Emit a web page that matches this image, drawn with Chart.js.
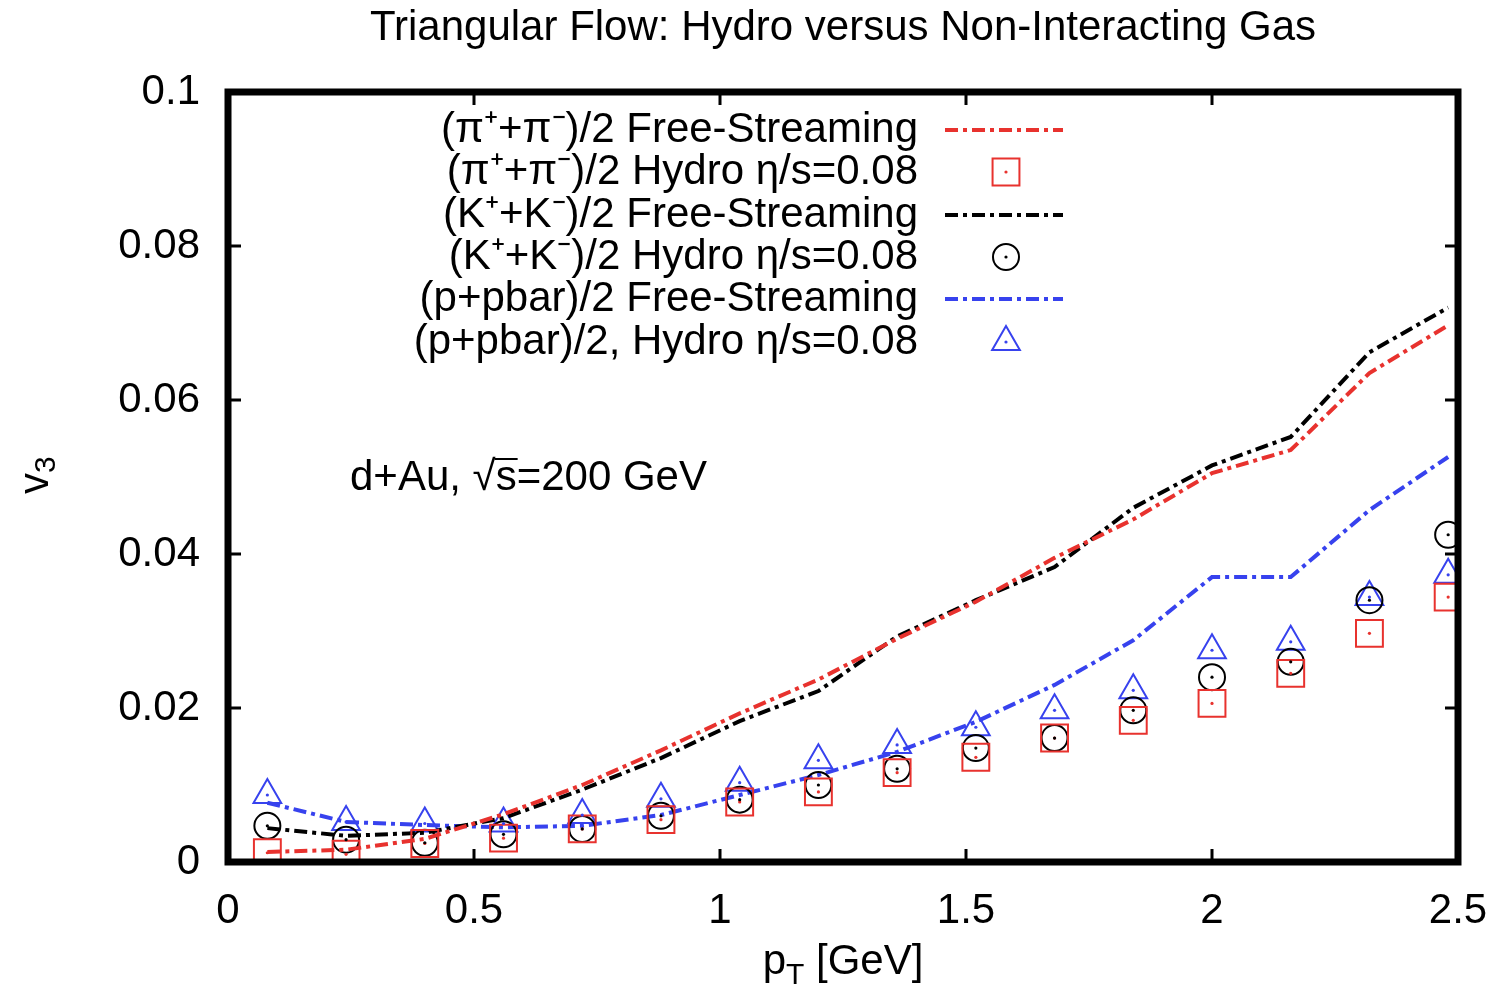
<!DOCTYPE html>
<html lang="en">
<head>
<meta charset="UTF-8">
<title>Triangular Flow: Hydro versus Non-Interacting Gas</title>
<script src="https://cdn.jsdelivr.net/npm/chart.js"></script>
<style>
    body {
        margin: 0;
        background: #fff;
    }

    #wrap {
        width: 1500px;
        height: 993px;
    }
</style>
</head>
<body>
<div id="wrap"><canvas id="flowChart" width="1500" height="993"></canvas></div>

<script>
    // pT bins (GeV)
    const ptValues = [0.08, 0.24, 0.40, 0.56, 0.72, 0.88, 1.04, 1.20, 1.36, 1.52, 1.68, 1.84, 2.00, 2.16, 2.32, 2.48];

    // free-streaming curves
    const pionFree = [0.0013, 0.0016, 0.0030, 0.0062, 0.0100, 0.0145, 0.0193, 0.0237, 0.0290, 0.0338, 0.0395, 0.0445, 0.0505, 0.0535, 0.0635, 0.0697];
    const kaonFree = [0.0044, 0.0034, 0.0038, 0.0057, 0.0094, 0.0135, 0.0183, 0.0222, 0.0293, 0.0340, 0.0383, 0.0460, 0.0515, 0.0552, 0.0662, 0.0720];
    const protonFree = [0.0077, 0.0052, 0.0048, 0.0045, 0.0047, 0.0061, 0.0087, 0.0113, 0.0143, 0.0182, 0.0230, 0.0288, 0.0370, 0.0370, 0.0457, 0.0526];

    // hydro eta/s = 0.08 points
    const pionHydro = [0.0012, 0.0010, 0.0024, 0.0031, 0.0043, 0.0055, 0.0078, 0.0091, 0.0116, 0.0136, 0.0161, 0.0184, 0.0206, 0.0245, 0.0297, 0.0344];
    const kaonHydro = [0.0047, 0.0029, 0.0025, 0.0036, 0.0043, 0.0060, 0.0081, 0.0100, 0.0121, 0.0148, 0.0161, 0.0197, 0.0240, 0.0260, 0.0340, 0.0425];
    const protonHydro = [0.0087, 0.0052, 0.0050, 0.0050, 0.0061, 0.0082, 0.0103, 0.0132, 0.0152, 0.0175, 0.0197, 0.0223, 0.0275, 0.0286, 0.0344, 0.0373];

    const seriesLabels = [
        '(π⁺+π⁻)/2 Free-Streaming',
        '(π⁺+π⁻)/2 Hydro η/s=0.08',
        '(K⁺+K⁻)/2 Free-Streaming',
        '(K⁺+K⁻)/2 Hydro η/s=0.08',
        '(p+pbar)/2 Free-Streaming',
        '(p+pbar)/2, Hydro η/s=0.08'
    ];

    const xTickStep = 0.5;
    const yTickStep = 0.02;

    const RED = 'rgb(232,50,46)';
    const BLACK = 'rgb(0,0,0)';
    const BLUE = 'rgb(55,66,238)';
    const DASH = [13, 5, 4, 5];
    const FONT = "'Liberation Sans', Arial, Helvetica, sans-serif";
    const FS = 42;

    const toPoints = vals => vals.map((v, i) => ({ x: ptValues[i], y: v }));

    function curve(label, vals, color) {
        return {
            label: label,
            data: toPoints(vals),
            borderColor: color,
            backgroundColor: color,
            borderWidth: 4,
            borderDash: DASH,
            pointRadius: 0,
            showLine: true,
            tension: 0
        };
    }

    function markers(label, vals, color, style, radius) {
        return {
            label: label,
            data: toPoints(vals),
            borderColor: color,
            backgroundColor: 'rgba(0,0,0,0)',
            borderWidth: 2,
            pointStyle: style,
            pointRadius: radius,
            pointBorderWidth: 2,
            showLine: false
        };
    }

    // thick frame + inward mirrored ticks (gnuplot look), plus centre dots of markers
    const frameTicks = {
        id: 'frameTicks',
        afterDatasetsDraw(chart) {
            const { ctx, chartArea: a, scales: { x, y } } = chart;
            ctx.save();
            chart.data.datasets.forEach((ds, i) => {
                if (ds.showLine) return;
                ctx.fillStyle = ds.borderColor;
                chart.getDatasetMeta(i).data.forEach(pt => {
                    ctx.beginPath();
                    ctx.arc(pt.x, pt.y, 1.6, 0, Math.PI * 2);
                    ctx.fill();
                });
            });
            ctx.strokeStyle = '#000';
            ctx.lineWidth = 3;
            ctx.beginPath();
            x.ticks.forEach(t => {
                const px = x.getPixelForValue(t.value);
                ctx.moveTo(px, a.bottom); ctx.lineTo(px, a.bottom - 13);
                ctx.moveTo(px, a.top); ctx.lineTo(px, a.top + 13);
            });
            y.ticks.forEach(t => {
                const py = y.getPixelForValue(t.value);
                ctx.moveTo(a.left, py); ctx.lineTo(a.left + 13, py);
                ctx.moveTo(a.right, py); ctx.lineTo(a.right - 13, py);
            });
            ctx.stroke();
            ctx.lineWidth = 7;
            ctx.strokeRect(a.left, a.top, a.right - a.left, a.bottom - a.top);
            ctx.restore();
        }
    };

    // title, axis titles, annotation and legend
    const textLayer = {
        id: 'textLayer',
        afterDraw(chart) {
            const { ctx } = chart;
            const big = FS + 'px ' + FONT, small = '30px ' + FONT;
            ctx.save();
            ctx.fillStyle = '#000';
            ctx.textBaseline = 'middle';

            ctx.font = big;
            ctx.textAlign = 'center';
            ctx.fillText('Triangular Flow: Hydro versus Non-Interacting Gas', 843, 28);

            // x title  p_T [GeV]
            ctx.textAlign = 'left';
            ctx.font = big;
            const wP = ctx.measureText('p').width;
            ctx.font = small;
            const wT = ctx.measureText('T').width;
            ctx.font = big;
            const wRest = ctx.measureText(' [GeV]').width;
            const x0 = 843 - (wP + wT + wRest) / 2;
            ctx.fillText('p', x0, 962);
            ctx.font = small;
            ctx.fillText('T', x0 + wP, 976);
            ctx.font = big;
            ctx.fillText(' [GeV]', x0 + wP + wT, 962);

            // y title  v_3
            ctx.save();
            ctx.translate(36, 478);
            ctx.rotate(-Math.PI / 2);
            ctx.font = big;
            ctx.fillText('v', -16, 0);
            ctx.font = small;
            ctx.fillText('3', 5, 11);
            ctx.restore();

            // annotation
            ctx.font = big;
            ctx.textAlign = 'left';
            const pre = 'd+Au, √';
            ctx.fillText(pre + 's=200 GeV', 350, 478);
            const sx = 350 + ctx.measureText(pre).width;
            const sw = ctx.measureText('s').width;
            ctx.lineWidth = 2;
            ctx.beginPath();
            ctx.moveTo(sx - 1, 459);
            ctx.lineTo(sx + sw + 1, 459);
            ctx.stroke();

            // legend: text right-aligned, sample on the right
            const rows = [130, 172, 215, 257, 299, 342];
            chart.data.datasets.forEach((ds, i) => {
                ctx.fillStyle = '#000';
                ctx.textAlign = 'right';
                ctx.font = big;
                ctx.fillText(ds.label, 918, rows[i]);
                ctx.save();
                ctx.strokeStyle = ds.borderColor;
                if (ds.showLine) {
                    ctx.lineWidth = ds.borderWidth;
                    ctx.setLineDash(ds.borderDash);
                    ctx.beginPath();
                    ctx.moveTo(945, rows[i]);
                    ctx.lineTo(1063, rows[i]);
                    ctx.stroke();
                } else {
                    ctx.fillStyle = 'rgba(0,0,0,0)';
                    ctx.lineWidth = ds.pointBorderWidth;
                    Chart.helpers.drawPoint(ctx, {
                        pointStyle: ds.pointStyle,
                        radius: ds.pointRadius,
                        borderWidth: ds.pointBorderWidth,
                        rotation: 0
                    }, 1006, rows[i]);
                    ctx.fillStyle = ds.borderColor;
                    ctx.beginPath();
                    ctx.arc(1006, rows[i], 1.6, 0, Math.PI * 2);
                    ctx.fill();
                }
                ctx.restore();
            });
            ctx.restore();
        }
    };

    const ctxFlow = document.getElementById('flowChart').getContext('2d');
    new Chart(ctxFlow, {
        type: 'line',
        data: {
            datasets: [
                curve(seriesLabels[0], pionFree, RED),
                markers(seriesLabels[1], pionHydro, RED, 'rect', 19),
                curve(seriesLabels[2], kaonFree, BLACK),
                markers(seriesLabels[3], kaonHydro, BLACK, 'circle', 13),
                curve(seriesLabels[4], protonFree, BLUE),
                markers(seriesLabels[5], protonHydro, BLUE, 'triangle', 16)
            ]
        },
        options: {
            responsive: false,
            animation: false,
            layout: {
                padding: { top: 92, right: 42, left: 0, bottom: 0 }
            },
            plugins: {
                legend: { display: false },
                title: { display: false },
                tooltip: { enabled: false }
            },
            scales: {
                x: {
                    type: 'linear',
                    min: 0,
                    max: 2.5,
                    grid: { display: false, drawTicks: false },
                    border: { display: false },
                    ticks: {
                        stepSize: xTickStep,
                        padding: 24,
                        color: '#000',
                        font: { family: FONT, size: FS },
                        maxRotation: 0,
                        callback: v => String(+v.toFixed(2))
                    },
                    afterFit: scale => {
                        scale.height = 131;
                        scale.paddingLeft = 0;
                        scale.paddingRight = 0;
                    }
                },
                y: {
                    min: 0,
                    max: 0.1,
                    grid: { display: false, drawTicks: false },
                    border: { display: false },
                    ticks: {
                        stepSize: yTickStep,
                        padding: 28,
                        color: '#000',
                        font: { family: FONT, size: FS },
                        callback: v => String(+v.toFixed(2))
                    },
                    afterFit: scale => {
                        scale.width = 228;
                        scale.paddingTop = 0;
                        scale.paddingBottom = 0;
                    }
                }
            }
        },
        plugins: [frameTicks, textLayer]
    });
</script>
</body>
</html>
